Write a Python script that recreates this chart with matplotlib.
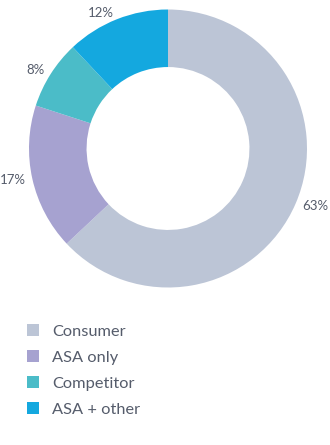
import matplotlib
matplotlib.use("Agg")
import matplotlib.pyplot as plt
from matplotlib.patches import Patch

# chart data
categories = ["Consumer", "ASA only", "Competitor", "ASA + other"]
shares = [63, 17, 8, 12]
colors = ["#bcc5d6", "#a6a2d0", "#4bbcc8", "#14a8df"]

plt.rcParams['font.family'] = ['Lato', 'DejaVu Sans']
text_color = "#555c6b"

fig = plt.figure(figsize=(3.30, 4.45), dpi=100)

# donut: centre (168, 148.5) px, radius 139 px
W, H = 330, 445
ax = fig.add_axes([(168 - 139) / W, 1 - (148.5 + 139) / H, 278 / W, 278 / H])
labels = [str(v) + "%" for v in shares]
wedges, texts = ax.pie(shares, colors=colors, startangle=90, counterclock=False,
                       labels=labels, labeldistance=1.05,
                       wedgeprops=dict(width=0.414, linewidth=0),
                       textprops=dict(color=text_color, fontsize=9.5))
ax.set_xlim(-1, 1)
ax.set_ylim(-1, 1)
ax.set_aspect('equal')
ax.axis('off')

# legend
handles = [Patch(facecolor=c, edgecolor='none') for c in colors]
fig.legend(handles, categories, loc='upper left', bbox_to_anchor=(27 / W, 1 - 324 / H),
           frameon=False, fontsize=11.8, labelcolor=text_color,
           handlelength=0.72, handleheight=0.72, handletextpad=0.8,
           labelspacing=0.7, borderaxespad=0, borderpad=0)

fig.savefig("out.png", dpi=100)
